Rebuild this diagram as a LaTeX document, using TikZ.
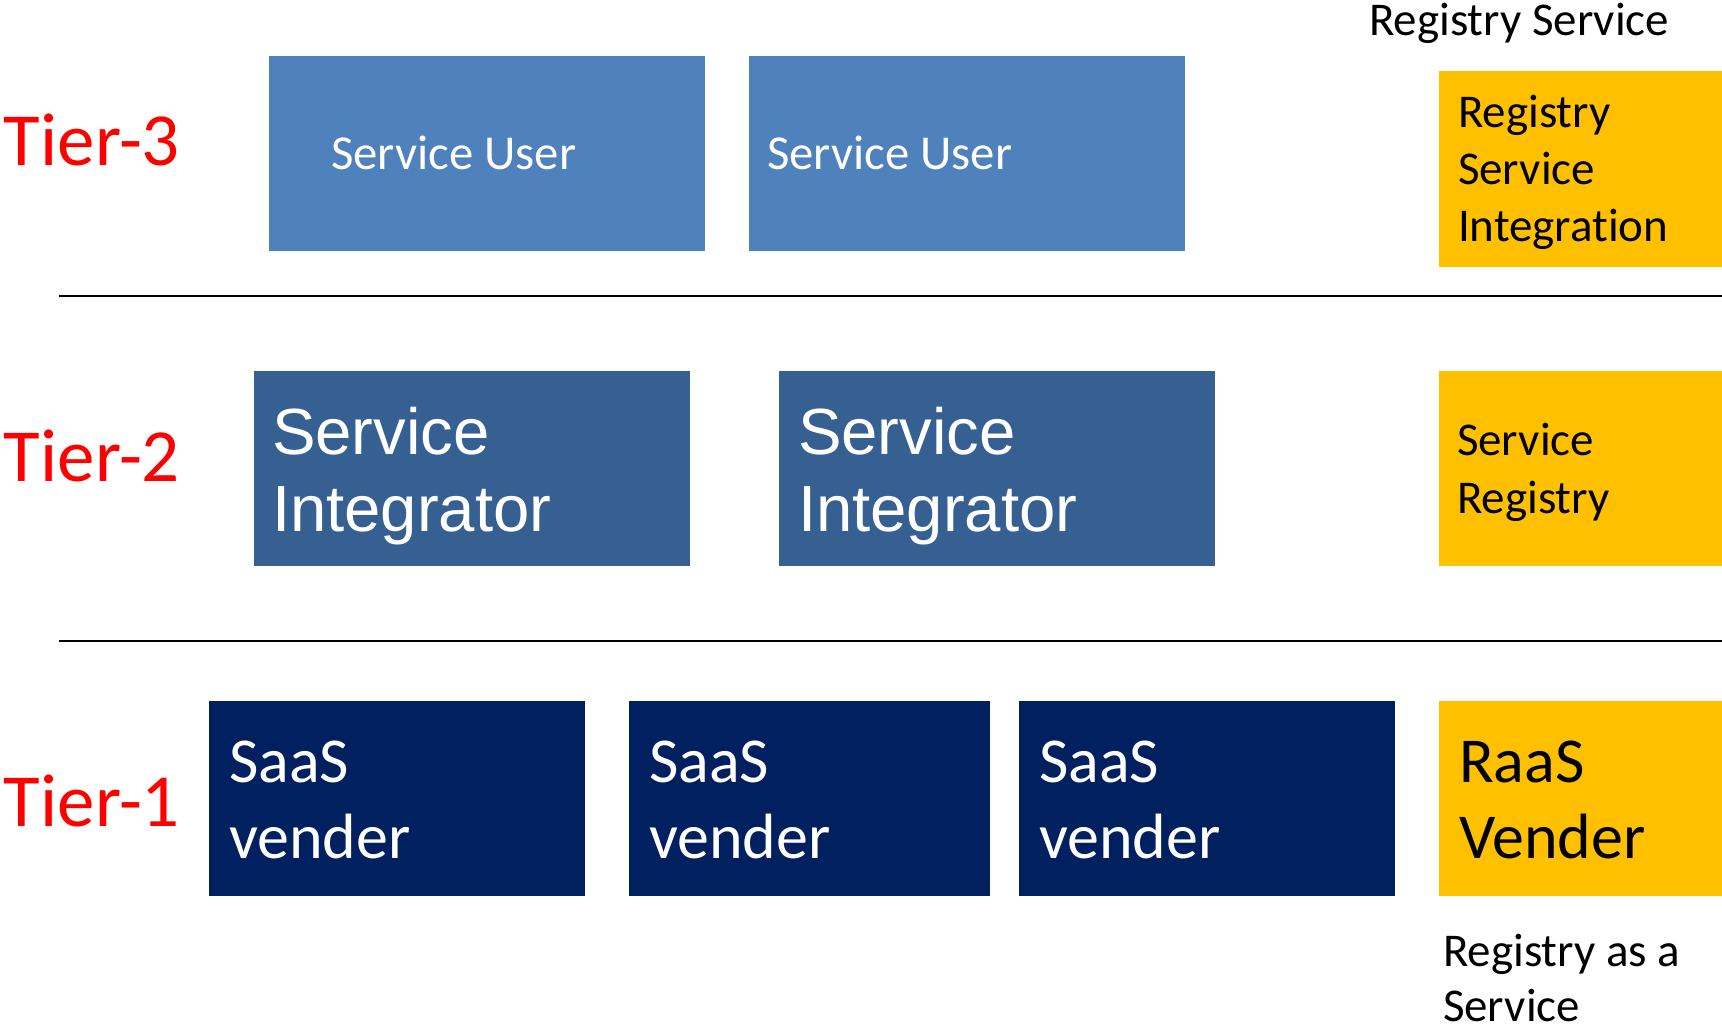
\documentclass[tikz,border=0pt]{standalone}
\usepackage{fontspec}
\setmainfont{Carlito}[Ligatures=CommonOff]
\newfontfamily\arialf{Liberation Sans}
\definecolor{suBlue}{HTML}{4F81BD}
\definecolor{siBlue}{HTML}{376092}
\definecolor{saasBlue}{HTML}{002060}
\definecolor{goldY}{HTML}{FFC000}
\definecolor{tierRed}{HTML}{FF0000}
\tikzset{
  box/.style={draw=none, inner sep=0pt, outer sep=0pt},
  subox/.style={box, fill=suBlue},
  sibox/.style={box, fill=siBlue},
  saasbox/.style={box, fill=saasBlue},
  ybox/.style={box, fill=goldY},
  txt/.style={anchor=base west, inner sep=0pt, outer sep=0pt, align=left},
  tier/.style={txt, text=tierRed, font=\fontsize{75}{90}\selectfont},
  sutxt/.style={txt, text=white, font=\fontsize{48.8}{60}\selectfont},
  sitxt/.style={txt, text=white, font=\arialf\fontsize{65.3}{77}\selectfont},
  saastxt/.style={txt, text=white, font=\fontsize{64}{76}\selectfont},
  ytxt/.style={txt, text=black, font=\fontsize{47}{57.5}\selectfont},
  ybig/.style={txt, text=black, font=\fontsize{64}{76}\selectfont},
  sep/.style={line width=2.7pt, black}
}
\begin{document}
\begin{tikzpicture}[x=1pt,y=-1pt]
\useasboundingbox (0,0) rectangle (1722,1027);
% boxes
\path[subox] (269,56) rectangle (705,251) coordinate (su1);
\path[subox] (749,56) rectangle (1185,251) coordinate (su2);
\path[ybox] (1439,71) rectangle (1722,267) coordinate (rsi);
\path[sibox] (254,371) rectangle (690,566) coordinate (si1);
\path[sibox] (779,371) rectangle (1215,566) coordinate (si2);
\path[ybox] (1439,371) rectangle (1722,566) coordinate (sr);
\path[saasbox] (209,701) rectangle (585,896) coordinate (sa1);
\path[saasbox] (629,701) rectangle (990,896) coordinate (sa2);
\path[saasbox] (1019,701) rectangle (1395,896) coordinate (sa3);
\path[ybox] (1439,701) rectangle (1722,896) coordinate (raas);
% separators
\coordinate (l1a) at (59,296);
\coordinate (l1b) at (1722,296);
\coordinate (l2a) at (59,641);
\coordinate (l2b) at (1722,641);
\draw[sep] (l1a) -- (l1b);
\draw[sep] (l2a) -- (l2b);
% tier labels
\node[tier] (t3) at (4,166) {Tier-3};
\node[tier] (t2) at (4,481) {Tier-2};
\node[tier] (t1) at (4,826) {Tier-1};
% texts (multi-line nodes: base = last line)
\node[ytxt] (rstop) at (1369,36) {Registry Service};
\node[sutxt] (sut1) at (331,170) {Service User};
\node[sutxt] (sut2) at (767,170) {Service User};
\node[ytxt] (rsit) at (1458,242) {Registry\\Service\\Integration};
\node[sitxt] (sit1) at (272,531) {Service\\Integrator};
\node[sitxt] (sit2) at (798,531) {Service\\Integrator};
\node[ytxt] (srt) at (1457,513) {Service\\Registry};
\node[saastxt] (sat1) at (229,858) {SaaS\\vender};
\node[saastxt] (sat2) at (649,858) {SaaS\\vender};
\node[saastxt] (sat3) at (1039,858) {SaaS\\vender};
\node[ybig] (raast) at (1459,858) {RaaS\\Vender};
\node[txt, text=black, font=\fontsize{47}{55}\selectfont] (raasl) at (1443,1021) {Registry as a\\Service};
\end{tikzpicture}
\end{document}
